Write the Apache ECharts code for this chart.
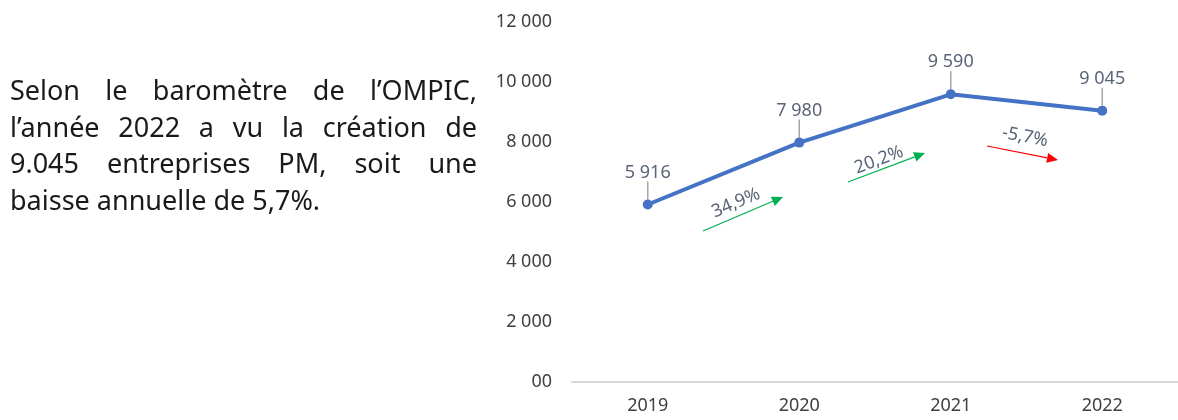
<!DOCTYPE html>
<html>
<head>
<meta charset="utf-8">
<script src="https://cdn.jsdelivr.net/npm/echarts@6/dist/echarts.min.js"></script>
<style>
  html, body { margin: 0; padding: 0; background: #fff; }
  #wrap { position: relative; width: 1178px; height: 420px; }
  #txt {
    position: absolute; left: 10px; top: 72px; width: 467px;
    font-family: "Noto Sans", sans-serif; font-size: 27px; line-height: 36.7px;
    color: #1a1a1a;
  }
  #txt .l { text-align: justify; text-align-last: justify; white-space: nowrap; }
  #txt .last { text-align: left; }
  #chart { position: absolute; left: 0; top: 0; width: 1178px; height: 420px; }
</style>
</head>
<body>
<div id="wrap">
  <div id="chart"></div>
  <div id="txt">
    <div class="l">Selon le baromètre de l’OMPIC,</div>
    <div class="l">l’année 2022 a vu la création de</div>
    <div class="l">9.045 entreprises PM, soit une</div>
    <div class="last">baisse annuelle de 5,7%.</div>
  </div>
</div>
<script>
const years = ["2019", "2020", "2021", "2022"];
const created = [5916, 7980, 9590, 9045];
const yTicks = [0, 2000, 4000, 6000, 8000, 10000, 12000];
const changeLabels = ["34,9%", "20,2%", "-5,7%"];

const FONT = "'Noto Sans', sans-serif";

function fmt(v) {
  if (v === 0) return "00";
  return String(v).replace(/\B(?=(\d{3})+(?!\d))/g, " ");
}

// arrow annotations (pixel positions)
const arrows = [
  { from: [703, 231], to: [783, 197], color: "#00b050", text: changeLabels[0], tx: 736, ty: 203 },
  { from: [848, 182], to: [925, 153], color: "#00b050", text: changeLabels[1], tx: 879, ty: 160 },
  { from: [987, 146], to: [1058, 160], color: "#ff0000", text: changeLabels[2], tx: 1025, ty: 137 },
];

const graphics = [];
arrows.forEach((a) => {
  const dx = a.to[0] - a.from[0], dy = a.to[1] - a.from[1];
  const len = Math.sqrt(dx * dx + dy * dy);
  const ux = dx / len, uy = dy / len;
  const hl = 11, hw = 5;
  const bx = a.to[0] - ux * hl, by = a.to[1] - uy * hl;
  graphics.push({
    type: "line",
    shape: { x1: a.from[0], y1: a.from[1], x2: bx, y2: by },
    style: { stroke: a.color, lineWidth: 1.2 },
  });
  graphics.push({
    type: "polygon",
    shape: { points: [[a.to[0], a.to[1]], [bx - uy * hw, by + ux * hw], [bx + uy * hw, by - ux * hw]] },
    style: { fill: a.color },
  });
  const ang = Math.atan2(dy, dx);
  graphics.push({
    type: "text",
    x: a.tx, y: a.ty,
    rotation: -ang,
    style: {
      text: a.text, fill: "#5b6478", font: "18px " + FONT,
      align: "center", verticalAlign: "middle",
    },
  });
});

var myChart = echarts.init(document.getElementById("chart"));
myChart.setOption({
  animation: false,
  grid: { left: 572, right: 0, top: 22, bottom: 38 },
  xAxis: {
    type: "category",
    data: years,
    axisLine: { lineStyle: { color: "#d9d9d9", width: 2 } },
    axisTick: { show: false },
    axisLabel: { color: "#404040", fontSize: 18, fontFamily: FONT, margin: 15 },
  },
  yAxis: {
    type: "value",
    min: yTicks[0],
    max: yTicks[yTicks.length - 1],
    interval: 2000,
    splitLine: { show: false },
    axisLine: { show: false },
    axisTick: { show: false },
    axisLabel: {
      color: "#404040", fontSize: 18, fontFamily: FONT, margin: 20,
      formatter: fmt,
    },
  },
  series: [
    {
      type: "line",
      data: created,
      symbol: "circle",
      symbolSize: 10,
      lineStyle: { color: "#4472c4", width: 4 },
      itemStyle: { color: "#4472c4" },
      label: {
        show: true, position: "top", distance: 8,
        color: "#5b6478", fontSize: 18, fontFamily: FONT,
        formatter: (p) => fmt(p.value),
      },
      labelLayout: { dy: -10 },
      labelLine: { show: true, lineStyle: { color: "#a6a6a6", width: 1.5 } },
    },
  ],
  graphic: graphics,
});
</script>
</body>
</html>
